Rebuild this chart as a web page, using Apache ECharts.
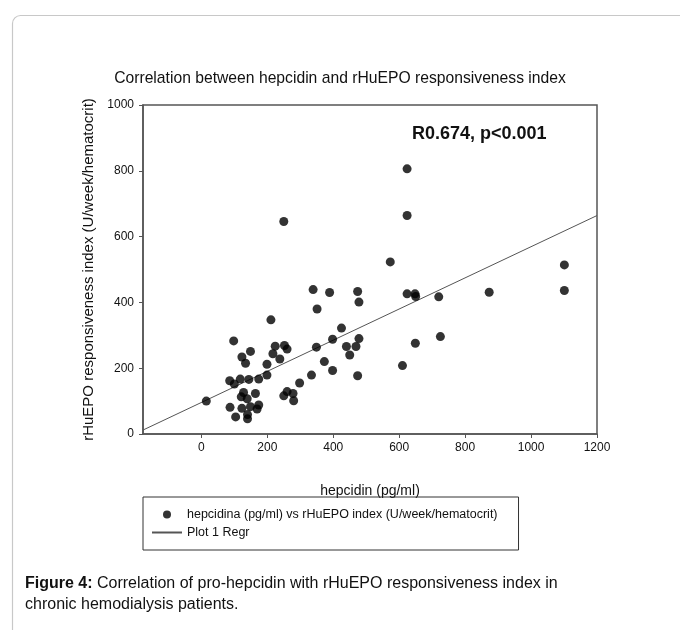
<!DOCTYPE html>
<html>
<head>
<meta charset="utf-8">
<script src="https://cdn.jsdelivr.net/npm/echarts@6/dist/echarts.min.js"></script>
<style>html,body{margin:0;padding:0;background:#fff;}#c{width:680px;height:630px;}</style>
</head>
<body>
<div id="c"></div>
<script>
// hepcidin (pg/ml)
var hepcidin = [15,98,86,100,118,144,174,149,123,134,211,224,252,260,217,238,199,199,128,164,121,139,87,123,149,174,169,104,140,140,250,260,278,280,298,334,339,351,349,250,389,474,478,425,398,478,440,469,450,373,398,474,573,610,624,624,624,648,650,649,720,725,873,1101,1101];
// rHuEPO responsiveness index (U/week/hematocrit)
var rhuepoIndex = [100,283,162,152,167,166,167,251,234,215,347,267,269,258,244,228,212,179,126,123,113,107,81,78,83,88,76,52,59,46,116,129,123,101,155,179,439,380,264,646,430,433,401,322,288,290,266,266,240,220,193,177,523,208,806,664,426,426,418,276,417,296,431,514,436];
// regression line end points
var regrX = [-177, 1200];
var regrY = [12, 664];
var xTicks = [0,200,400,600,800,1000,1200];
var yTicks = [0,200,400,600,800,1000];

var scatterData = hepcidin.map(function(x,i){return [x, rhuepoIndex[i]];});
var regrData = regrX.map(function(x,i){return [x, regrY[i]];});
var FONT = 'Liberation Sans, Arial, sans-serif';
var axisCol = '#555';

var chart = echarts.init(document.getElementById('c'), null, {renderer:'canvas'});
chart.setOption({
  animation:false,
  backgroundColor:'#fff',
  textStyle:{fontFamily:FONT},
  title:{
    text:'Correlation between hepcidin and rHuEPO responsiveness index',
    left:'center', top:66,
    textStyle:{fontFamily:FONT, fontSize:15.7, fontWeight:'normal', color:'#111'}
  },
  grid:{left:143, right:83, top:105, bottom:196, show:true, borderColor:axisCol, borderWidth:1.5, backgroundColor:'transparent'},
  xAxis:{
    type:'value', min:-177, max:1200,
    name:'hepcidin (pg/ml)', nameLocation:'middle', nameGap:50,
    nameTextStyle:{fontFamily:FONT, fontSize:14, color:'#111'},
    axisLine:{show:true, onZero:false, lineStyle:{color:axisCol, width:1.5}},
    axisTick:{show:true, inside:false, length:4, customValues:xTicks, lineStyle:{color:axisCol}},
    axisLabel:{customValues:xTicks, fontFamily:FONT, fontSize:12, color:'#111', margin:8,
      formatter:function(v){return String(v);}},
    splitLine:{show:false}
  },
  yAxis:{
    type:'value', min:0, max:1000, interval:200,
    name:'rHuEPO responsiveness index (U/week/hematocrit)', nameLocation:'middle', nameGap:37,
    nameTextStyle:{fontFamily:FONT, fontSize:15, color:'#111'},
    axisLine:{show:true, onZero:false, lineStyle:{color:axisCol, width:1.5}},
    axisTick:{show:true, inside:false, length:4, customValues:yTicks, lineStyle:{color:axisCol}},
    axisLabel:{customValues:yTicks, fontFamily:FONT, fontSize:12, color:'#111', margin:9,
      formatter:function(v){return String(v);}},
    splitLine:{show:false}
  },
  legend:{
    orient:'vertical', left:143, top:497,
    borderColor:'#333', borderWidth:1, padding:[11,21,11,8], itemGap:5,
    itemWidth:30, itemHeight:8,
    textStyle:{fontFamily:FONT, fontSize:12.5, color:'#111'},
    data:[
      {name:'hepcidina (pg/ml) vs rHuEPO index (U/week/hematocrit)', icon:'circle'},
      {name:'Plot 1 Regr', itemStyle:{color:'transparent', borderWidth:0, opacity:0}}
    ]
  },
  series:[
    {
      name:'hepcidina (pg/ml) vs rHuEPO index (U/week/hematocrit)',
      type:'scatter', symbol:'circle', symbolSize:9,
      itemStyle:{color:'#000'},
      data:scatterData, z:3
    },
    {
      name:'Plot 1 Regr', type:'line', symbol:'none', showSymbol:false,
      lineStyle:{color:'#555', width:1},
      itemStyle:{color:'#555'},
      data:regrData, z:2
    }
  ],
  graphic:[
    {type:'rect', left:10, top:13, shape:{width:720, height:700, r:8}, style:{fill:'none', stroke:'#c8c8c8', lineWidth:1.2}, z:-1},
    {type:'text', left:412, top:125, style:{text:'R0.674, p<0.001', font:'bold 18px Liberation Sans, Arial, sans-serif', fill:'#111'}},
    {type:'text', left:25, top:573, style:{
      text:'{b|Figure 4:} Correlation of pro-hepcidin with rHuEPO responsiveness index in\nchronic hemodialysis patients.',
      font:'16px Liberation Sans, Arial, sans-serif', fill:'#111', lineHeight:21,
      rich:{b:{fontWeight:'bold', fontSize:16, fontFamily:FONT, fill:'#111'}}
    }}
  ]
});
</script>
</body>
</html>
